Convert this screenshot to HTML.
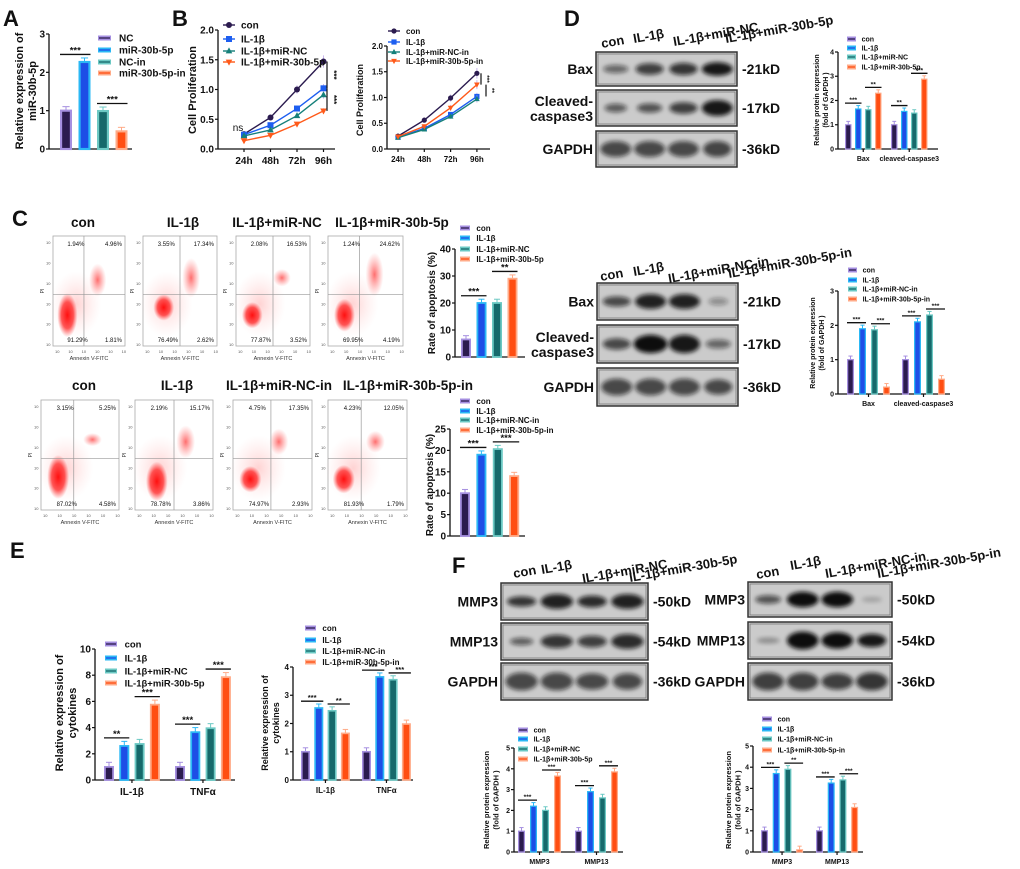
<!DOCTYPE html>
<html><head><meta charset="utf-8"><style>
html,body{margin:0;padding:0;background:#fff;width:1020px;height:869px;overflow:hidden}
svg{display:block;font-family:"Liberation Sans",Arial,sans-serif;font-weight:bold}
</style></head><body>
<svg id="fig" width="1020" height="869" viewBox="0 0 1020 869" xmlns="http://www.w3.org/2000/svg">
<defs>
<filter id="blur2" x="-50%" y="-50%" width="200%" height="200%"><feGaussianBlur stdDeviation="2"/></filter>
<filter id="blur1" x="-50%" y="-50%" width="200%" height="200%"><feGaussianBlur stdDeviation="1.2"/></filter>
<radialGradient id="dotDense"><stop offset="0" stop-color="#ff1010" stop-opacity="1"/><stop offset="0.6" stop-color="#ff2020" stop-opacity="0.75"/><stop offset="1" stop-color="#ff4040" stop-opacity="0"/></radialGradient>
<radialGradient id="dotLight"><stop offset="0" stop-color="#ff3030" stop-opacity="0.7"/><stop offset="1" stop-color="#ff6060" stop-opacity="0"/></radialGradient>
<radialGradient id="dotHaze"><stop offset="0" stop-color="#ff8080" stop-opacity="0.35"/><stop offset="1" stop-color="#ffb0b0" stop-opacity="0"/></radialGradient>
</defs>
</svg>
<script>
// ---------------- DATA ----------------
const A_groups = ['NC','miR-30b-5p','NC-in','miR-30b-5p-in'];
const A_values = [1.0, 2.27, 0.99, 0.46];
const A_ticks = [0,1,2,3];

const B_times = ['24h','48h','72h','96h'];
const B1_labels = ['con','IL-1β','IL-1β+miR-NC','IL-1β+miR-30b-5p'];
const B1_con = [0.25,0.53,1.0,1.47];
const B1_il = [0.24,0.40,0.68,1.02];
const B1_nc = [0.22,0.32,0.56,0.91];
const B1_mir = [0.14,0.23,0.42,0.64];
const B2_labels = ['con','IL-1β','IL-1β+miR-NC-in','IL-1β+miR-30b-5p-in'];
const B2_con = [0.25,0.56,0.99,1.47];
const B2_il = [0.23,0.40,0.67,1.02];
const B2_nc = [0.22,0.38,0.63,0.97];
const B2_mir = [0.24,0.44,0.80,1.25];
const B_ticks = [0.0,0.5,1.0,1.5,2.0];

const LEG_OE = ['con','IL-1β','IL-1β+miR-NC','IL-1β+miR-30b-5p'];
const LEG_IN = ['con','IL-1β','IL-1β+miR-NC-in','IL-1β+miR-30b-5p-in'];

const C1_values = [6.5,20,20,29];
const C1_ticks = [0,10,20,30,40];
const C2_values = [10,19,20.3,14];
const C2_ticks = [0,5,10,15,20,25];

const D_cats = ['Bax','cleaved-caspase3'];
const D1_bax = [1,1.65,1.62,2.3];
const D1_cc = [1,1.55,1.48,2.88];
const D1_ticks = [0,1,2,3,4];
const D2_bax = [1,1.9,1.87,0.2];
const D2_cc = [1,2.1,2.3,0.43];
const D2_ticks = [0,1,2,3];

const E_cats = ['IL-1β','TNFα'];
const E1_il = [1,2.6,2.75,5.75];
const E1_tnf = [1,3.65,3.95,7.85];
const E1_ticks = [0,2,4,6,8,10];
const E2_il = [1,2.55,2.45,1.65];
const E2_tnf = [1,3.65,3.55,1.98];
const E2_ticks = [0,1,2,3,4];

const F_cats = ['MMP3','MMP13'];
const F1_mmp3 = [1,2.2,2.0,3.65];
const F1_mmp13 = [1,2.9,2.6,3.85];
const F2_mmp3 = [1,3.7,3.9,0.1];
const F2_mmp13 = [1,3.25,3.4,2.1];
const F_ticks = [0,1,2,3,4,5];

// ---------------- HELPERS ----------------
const svg = document.getElementById('fig');
const NS = 'http://www.w3.org/2000/svg';
const COL = [{f:'#2b1b4f',s:'#a58fe0'},{f:'#1d4ee6',s:'#2bb8f5'},{f:'#16696b',s:'#6cc9c4'},{f:'#ff4e12',s:'#ffab88'}];
const LCOL = ['#2b1b4f','#1d5ef0','#16807a','#ff5a1a'];

function mk(tag, attrs, parent, name, inter){
  const e = document.createElementNS(NS, tag);
  for (const k in attrs) e.setAttribute(k, attrs[k]);
  
  
  (parent || svg).appendChild(e);
  return e;
}
function txt(x,y,s,size,parent,name,opts){
  opts = opts || {};
  const t = mk('text', {x:x, y:y, 'font-size':size, fill:opts.fill||'#111', 'text-anchor':opts.anchor||'start'}, parent, name, false);
  if (opts.rot) t.setAttribute('transform','rotate('+opts.rot+' '+x+' '+y+')');
  if (opts.weight) t.setAttribute('font-weight', opts.weight);
  t.textContent = s;
  return t;
}
function yAxis(g, ax, y0, yT, ymax, ticks, fs, xEnd){
  const sy = v => y0 - (v/ymax)*(y0-yT);
  mk('line',{x1:ax,y1:y0,x2:ax,y2:yT,stroke:'#111','stroke-width':1.3},g,'y-axis-line');
  mk('line',{x1:ax,y1:y0,x2:xEnd,y2:y0,stroke:'#111','stroke-width':1.3},g,'x-axis-line');
  ticks.forEach(t=>{
    const y = sy(t);
    mk('line',{x1:ax-3,y1:y,x2:ax,y2:y,stroke:'#111','stroke-width':1.2},g,'y-tick');
    txt(ax-4,y+fs*0.35,String(t),fs,g,'y-tick-label',{anchor:'end'});
  });
  return sy;
}
function legendBars(g, x, ys, labels, fs, sw){
  labels.forEach((l,i)=>{
    mk('rect',{x:x,y:ys[i]-2.5,width:sw,height:5,fill:COL[i].s},g,'legend-swatch');
    mk('line',{x1:x+1,y1:ys[i],x2:x+sw-1,y2:ys[i],stroke:COL[i].f,'stroke-width':1.3},g,'legend-swatch-line');
    txt(x+sw+(fs*0.8),ys[i]+fs*0.35,l,fs,g,'legend-entry');
  });
}
function yTitle(g, x, yc, lines, fs){
  lines.forEach((l,i)=>{
    txt(x + i*(fs+2), yc, l, fs, g, 'y-axis-title', {anchor:'middle', rot:-90});
  });
}
// bar chart; series = array of value arrays (one per group)
function barChart(cfg){
  const g = mk('g',{},svg,cfg.name);
  const sy = yAxis(g,cfg.ax,cfg.y0,cfg.yT,cfg.ymax,cfg.ticks,cfg.fs,cfg.xEnd);
  const tops = [];
  cfg.series.forEach((vals,gi)=>{
    tops.push([]);
    vals.forEach((v,bi)=>{
      const x = cfg.groups[gi] + bi*cfg.step;
      const y = sy(v);
      const sw = Math.max(1, cfg.bw*0.18);
      const b = mk('rect',{x:x+sw/2,y:y,width:cfg.bw-sw,height:cfg.y0-y,fill:COL[bi].f,stroke:COL[bi].s,'stroke-width':sw},g,'bar-'+(cfg.cats?cfg.cats[gi]+'-':'')+bi);
      const e = cfg.ymax*0.035;
      const ye = sy(v+e);
      mk('line',{x1:x+cfg.bw/2,y1:y,x2:x+cfg.bw/2,y2:ye,stroke:COL[bi].s,'stroke-width':1},g,'error-bar');
      mk('line',{x1:x+cfg.bw/2-cfg.bw*0.3,y1:ye,x2:x+cfg.bw/2+cfg.bw*0.3,y2:ye,stroke:COL[bi].s,'stroke-width':1},g,'error-cap');
      tops[gi].push({x:x, top:v+e});
    });
    if (cfg.cats){
      const cx = cfg.groups[gi] + (vals.length-1)*cfg.step/2 + cfg.bw/2;
      mk('line',{x1:cx,y1:cfg.y0,x2:cx,y2:cfg.y0+3,stroke:'#111','stroke-width':1.2},g,'x-tick');
      txt(cx,cfg.y0+cfg.fs+5,cfg.cats[gi],cfg.fs,g,'x-tick-label',{anchor:'middle'});
    }
  });
  (cfg.sig||[]).forEach(s=>{
    const a = tops[s[0]][s[1]], b = tops[s[0]][s[2]];
    const y = sy(Math.max(a.top,b.top)) - cfg.fs*0.35;
    mk('line',{x1:a.x,y1:y,x2:b.x+cfg.bw,y2:y,stroke:'#111','stroke-width':1.3},g,'significance-line');
    txt((a.x+b.x+cfg.bw)/2,y-1,s[3],cfg.fs*0.95,g,'significance-label',{anchor:'middle'});
  });
  legendBars(g,cfg.legX,cfg.legY,cfg.legend,cfg.lfs,cfg.sw);
  yTitle(g,cfg.titleX,cfg.titleY,cfg.title,cfg.tfs);
  return g;
}
function marker(g,kind,x,y,c,r){
  if (kind===0) mk('circle',{cx:x,cy:y,r:r,fill:c},g,'marker-circle');
  else if (kind===1) mk('rect',{x:x-r,y:y-r,width:2*r,height:2*r,fill:c},g,'marker-square');
  else if (kind===2) mk('polygon',{points:`${x},${y-r*1.2} ${x-r*1.1},${y+r*0.8} ${x+r*1.1},${y+r*0.8}`,fill:c},g,'marker-triangle-up');
  else mk('polygon',{points:`${x},${y+r*1.2} ${x-r*1.1},${y-r*0.8} ${x+r*1.1},${y-r*0.8}`,fill:c},g,'marker-triangle-down');
}
function lineChart(cfg){
  const g = mk('g',{},svg,cfg.name);
  const sy = yAxis(g,cfg.ax,cfg.y0,cfg.yT,2.0,B_ticks.map(t=>t),cfg.fs,cfg.xEnd);
  g.querySelectorAll('text').forEach((t,i)=>{t.textContent = B_ticks[i].toFixed(1);});
  const sx = i => cfg.x0 + i*cfg.dx;
  B_times.forEach((t,i)=>{
    mk('line',{x1:sx(i),y1:cfg.y0,x2:sx(i),y2:cfg.y0+3,stroke:'#111','stroke-width':1.2},g,'x-tick');
    txt(sx(i),cfg.y0+cfg.fs+5,t,cfg.fs,g,'x-tick-label',{anchor:'middle'});
  });
  cfg.series.forEach((vals,si)=>{
    const pts = vals.map((v,i)=>sx(i)+','+sy(v)).join(' ');
    mk('polyline',{points:pts,fill:'none',stroke:LCOL[si],'stroke-width':1.4},g,'line-'+cfg.labels[si]);
    vals.forEach((v,i)=>{
      const e = v*0.07;
      mk('line',{x1:sx(i),y1:sy(v-e),x2:sx(i),y2:sy(v+e),stroke:'#c9b6ee','stroke-width':1},g,'error-bar');
      marker(g,si,sx(i),sy(v),LCOL[si],cfg.mr);
    });
  });
  cfg.labels.forEach((l,i)=>{
    mk('line',{x1:cfg.legX-6,y1:cfg.legY[i],x2:cfg.legX+6,y2:cfg.legY[i],stroke:LCOL[i],'stroke-width':1.4},g,'legend-line');
    marker(g,i,cfg.legX,cfg.legY[i],LCOL[i],cfg.mr);
    txt(cfg.legX+12,cfg.legY[i]+cfg.lfs*0.35,l,cfg.lfs,g,'legend-entry');
  });
  yTitle(g,cfg.titleX,cfg.titleY,['Cell Proliferation'],cfg.tfs);
  (cfg.sig||[]).forEach(s=>{
    const ya = sy(cfg.series[s[0]][3]), yb = sy(cfg.series[s[1]][3]);
    mk('line',{x1:s[2],y1:ya,x2:s[2],y2:yb,stroke:'#111','stroke-width':1.2},g,'significance-line');
    txt(s[2]+4,(ya+yb)/2,s[3],cfg.fs*0.8,g,'significance-label',{anchor:'middle',rot:90});
  });
  return g;
}
// ---------------- PANEL LETTERS ----------------
[['A',3,26],['B',172,26],['D',564,26],['C',12,226],['E',10,558],['F',452,573]].forEach(p=>{
  txt(p[1],p[2],p[0],22,svg,'panel-label-'+p[0].toLowerCase(),{weight:'900'});
});

// ---------------- A ----------------
barChart({name:'chart-a',ax:49,y0:149,yT:34,ymax:3,ticks:A_ticks,fs:10,xEnd:132,
  series:[A_values],groups:[60],step:18.5,bw:12,
  sig:[[0,0,1,'***'],[0,2,3,'***']],
  legX:98,legY:[38,50,62,73],legend:A_groups,lfs:10,sw:13,
  titleX:23,titleY:91,title:['Relative expression of','miR-30b-5p'],tfs:11});

// ---------------- B ----------------
lineChart({name:'chart-b-overexpression',ax:218,y0:149,yT:30,xEnd:335,fs:10,x0:244,dx:26.5,
  series:[B1_con,B1_il,B1_nc,B1_mir],labels:B1_labels,mr:3,
  legX:229,legY:[25,39,51,62],lfs:10,titleX:196,titleY:90,tfs:11,
  sig:[[0,1,327,'***'],[1,3,327,'***']]});
txt(238,131,'ns',10,svg,'ns-label',{anchor:'middle',weight:'normal'});
lineChart({name:'chart-b-inhibition',ax:387,y0:149,yT:46,xEnd:490,fs:8,x0:398,dx:26.3,
  series:[B2_con,B2_il,B2_nc,B2_mir],labels:B2_labels,mr:2.6,
  legX:394,legY:[31,42,52,61],lfs:8,titleX:363,titleY:100,tfs:9,
  sig:[[0,3,481,'***'],[3,1,486,'**']]});

// ---------------- BLOTS ----------------
function blot(name,x,y,w,h,bands){
  const g = mk('g',{},svg,name);
  mk('rect',{x:x,y:y,width:w,height:h,fill:'#cbcbcb',stroke:'#333','stroke-width':1.5},g,'blot-background');
  mk('rect',{x:x+2,y:y+2,width:w-4,height:h-4,fill:'none',stroke:'#777','stroke-width':0.8},g,'blot-inner-border');
  bands.forEach((b,i)=>{
    mk('ellipse',{cx:x+w*(0.14+i*0.24),cy:y+h*0.5,rx:w*b[0],ry:h*b[1],fill:'#111','fill-opacity':b[2],filter:'url(#blur2)'},g,'band-lane-'+(i+1));
  });
  return g;
}
function blotSet(prefix,x,w,rows,labels,kd,hdr,hdrY,hdrX){
  rows.forEach((r,i)=>{
    blot(prefix+'-'+labels[i].join('-').toLowerCase()+'-blot',x,r[0],w,r[1],r[2]);
    const yc = r[0]+r[1]/2;
    labels[i].forEach((l,j)=>{
      txt(x-3,yc+5-(labels[i].length-1)*7+j*15,l,14,svg,'blot-row-label',{anchor:'end'});
    });
    txt(x+w+5,yc+5,kd[i],14,svg,'molecular-weight-label');
  });
  hdr.forEach((h,i)=>{
    txt(hdrX[i],hdrY[i],h,13,svg,'lane-header',{rot:-10});
  });
}
// D top
blotSet('d-top',596,141,[
  [52,34,[[0.09,0.12,0.55],[0.1,0.17,0.75],[0.1,0.18,0.8],[0.11,0.2,0.95]]],
  [90,36,[[0.08,0.12,0.6],[0.09,0.13,0.65],[0.1,0.16,0.75],[0.11,0.22,0.95]]],
  [131,36,[[0.11,0.22,0.7],[0.11,0.22,0.7],[0.11,0.22,0.7],[0.1,0.22,0.72]]]],
  [['Bax'],['Cleaved-','caspase3'],['GAPDH']],['-21kD','-17kD','-36kD'],
  ['con','IL-1β','IL-1β+miR-NC','IL-1β+miR-30b-5p'],[48,43,46,43],[602,634,674,726]);
// D bottom
blotSet('d-bottom',597,141,[
  [283,37,[[0.1,0.14,0.7],[0.11,0.2,0.9],[0.11,0.2,0.9],[0.07,0.1,0.35]]],
  [325,38,[[0.1,0.15,0.7],[0.12,0.24,1],[0.11,0.24,0.95],[0.09,0.12,0.55]]],
  [368,38,[[0.11,0.22,0.7],[0.11,0.22,0.7],[0.11,0.22,0.7],[0.1,0.2,0.7]]]],
  [['Bax'],['Cleaved-','caspase3'],['GAPDH']],['-21kD','-17kD','-36kD'],
  ['con','IL-1β','IL-1β+miR-NC-in','IL-1β+miR-30b-5p-in'],[281,276,283,278],[601,634,669,729]);
// F left
blotSet('f-left',501,147,[
  [583,37,[[0.1,0.14,0.8],[0.11,0.2,0.9],[0.1,0.16,0.85],[0.11,0.2,0.9]]],
  [623,37,[[0.08,0.1,0.6],[0.11,0.18,0.8],[0.1,0.16,0.75],[0.11,0.2,0.85]]],
  [663,37,[[0.11,0.24,0.7],[0.11,0.24,0.7],[0.11,0.22,0.7],[0.1,0.22,0.7]]]],
  [['MMP3'],['MMP13'],['GAPDH']],['-50kD','-54kD','-36kD'],
  ['con','IL-1β','IL-1β+miR-NC','IL-1β+miR-30b-5p'],[578,574,583,582],[514,542,583,630]);
// F right
blotSet('f-right',748,144,[
  [582,35,[[0.09,0.12,0.65],[0.11,0.22,1],[0.11,0.22,1],[0.07,0.08,0.2]]],
  [622,37,[[0.08,0.08,0.3],[0.11,0.24,1],[0.11,0.22,1],[0.1,0.18,0.95]]],
  [663,37,[[0.11,0.24,0.75],[0.11,0.24,0.75],[0.11,0.22,0.75],[0.11,0.24,0.8]]]],
  [['MMP3'],['MMP13'],['GAPDH']],['-50kD','-54kD','-36kD'],
  ['con','IL-1β','IL-1β+miR-NC-in','IL-1β+miR-30b-5p-in'],[579,570,578,578],[757,791,826,878]);

// ---------------- D CHARTS ----------------
barChart({name:'chart-d-overexpression',ax:838,y0:149,yT:52,ymax:4,ticks:D1_ticks,fs:7,xEnd:938,
  series:[D1_bax,D1_cc],cats:D_cats,groups:[845,891],step:10,bw:6.5,
  sig:[[0,0,1,'***'],[0,2,3,'**'],[1,0,1,'**'],[1,2,3,'***']],
  legX:847,legY:[39,48,57,67],legend:LEG_OE,lfs:7,sw:9,
  titleX:819,titleY:100,title:['Relative protein expression','(fold of GAPDH  )'],tfs:7});
barChart({name:'chart-d-inhibition',ax:838,y0:394,yT:291,ymax:3,ticks:D2_ticks,fs:7,xEnd:950,
  series:[D2_bax,D2_cc],cats:D_cats,groups:[847,902],step:12,bw:7,
  sig:[[0,0,1,'***'],[0,2,3,'***'],[1,0,1,'***'],[1,2,3,'***']],
  legX:848,legY:[270,280,289,299],legend:LEG_IN,lfs:7,sw:9,
  titleX:815,titleY:343,title:['Relative protein expression','(fold of GAPDH  )'],tfs:7});

// ---------------- C FLOW PLOTS ----------------
function flowPlot(name,x,y,w,h,pcts,dense,upper,qx){
  const g = mk('g',{},svg,name);
  mk('rect',{x:x,y:y,width:w,height:h,fill:'#fff',stroke:'#aaa','stroke-width':0.8},g,'flow-plot-frame');
  mk('ellipse',{cx:x+w*0.32,cy:y+h*0.62,rx:w*0.35,ry:h*0.3,fill:'url(#dotHaze)'},g,'scatter-haze');
  mk('ellipse',{cx:x+w*upper[0],cy:y+h*upper[1],rx:w*0.12,ry:h*upper[2],fill:'url(#dotLight)'},g,'scatter-upper-right');
  mk('ellipse',{cx:x+w*dense[0],cy:y+h*dense[1],rx:w*0.14,ry:h*dense[2],fill:'url(#dotDense)'},g,'scatter-live-cells');
  const qxp = x+w*qx, qyp = y+h*0.53;
  mk('line',{x1:qxp,y1:y,x2:qxp,y2:y+h,stroke:'#999','stroke-width':0.7},g,'quadrant-vertical');
  mk('line',{x1:x,y1:qyp,x2:x+w,y2:qyp,stroke:'#999','stroke-width':0.7},g,'quadrant-horizontal');
  const f=6;
  txt(x+w*0.2,y+10,pcts[0],f,g,'quadrant-q1-percent',{weight:'normal'});
  txt(x+w-3,y+10,pcts[1],f,g,'quadrant-q2-percent',{weight:'normal',anchor:'end'});
  txt(x+w*0.2,y+h-4,pcts[2],f,g,'quadrant-q3-percent',{weight:'normal'});
  txt(x+w-3,y+h-4,pcts[3],f,g,'quadrant-q4-percent',{weight:'normal',anchor:'end'});
  for(let i=0;i<6;i++){
    txt(x+2+i*w/5.4,y+h+7,'10',4,g,'x-decade-label',{weight:'normal',fill:'#555'});
    txt(x-7,y+h-i*h/5.4,'10',4,g,'y-decade-label',{weight:'normal',fill:'#555'});
  }
  txt(x+w/2,y+h+14,'Annexin V-FITC',5.5,g,'x-axis-title',{weight:'normal',anchor:'middle',fill:'#333'});
  txt(x-9,y+h/2,'PI',5,g,'y-axis-title',{weight:'normal',anchor:'middle',rot:-90,fill:'#333'});
}
const C_top = [
  [53,236,72,110,['1.94%','4.96%','91.29%','1.81%'],[0.2,0.72,0.2],[0.62,0.4,0.15],0.43,'con',83],
  [143,236,74,110,['3.55%','17.34%','76.49%','2.62%'],[0.28,0.65,0.12],[0.65,0.38,0.18],0.5,'IL-1β',183],
  [236,236,74,110,['2.08%','16.53%','77.87%','3.52%'],[0.22,0.72,0.12],[0.62,0.38,0.08],0.5,'IL-1β+miR-NC',277],
  [328,236,75,110,['1.24%','24.62%','69.95%','4.19%'],[0.22,0.72,0.15],[0.62,0.35,0.2],0.42,'IL-1β+miR-30b-5p',392]];
const C_bot = [
  [41,400,78,110,['3.15%','5.25%','87.02%','4.58%'],[0.22,0.7,0.2],[0.66,0.36,0.06],0.42,'con',84],
  [135,400,78,110,['2.19%','15.17%','78.78%','3.86%'],[0.28,0.74,0.18],[0.65,0.38,0.15],0.5,'IL-1β',177],
  [233,400,79,110,['4.75%','17.35%','74.97%','2.93%'],[0.22,0.72,0.12],[0.58,0.38,0.12],0.48,'IL-1β+miR-NC-in',279],
  [328,400,79,110,['4.23%','12.05%','81.93%','1.79%'],[0.2,0.72,0.13],[0.6,0.38,0.1],0.42,'IL-1β+miR-30b-5p-in',408]];
C_top.forEach((p,i)=>{ flowPlot('flow-plot-top-'+(i+1),p[0],p[1],p[2],p[3],p[4],p[5],p[6],p[7]); txt(p[9],p[1]-9,p[8],13.5,svg,'flow-plot-title',{anchor:'middle'}); });
C_bot.forEach((p,i)=>{ flowPlot('flow-plot-bottom-'+(i+1),p[0],p[1],p[2],p[3],p[4],p[5],p[6],p[7]); txt(p[9],p[1]-10,p[8],13.5,svg,'flow-plot-title',{anchor:'middle'}); });

barChart({name:'chart-c-overexpression',ax:455,y0:357,yT:249,ymax:40,ticks:C1_ticks,fs:10,xEnd:525,
  series:[C1_values],groups:[461],step:15.5,bw:10,
  sig:[[0,0,1,'***'],[0,2,3,'**']],
  legX:460,legY:[228,238,249,259],legend:LEG_OE,lfs:8,sw:10,
  titleX:435,titleY:303,title:['Rate of apoptosis (%)'],tfs:10});
barChart({name:'chart-c-inhibition',ax:450,y0:536,yT:429,ymax:25,ticks:C2_ticks,fs:10,xEnd:525,
  series:[C2_values],groups:[460],step:16.4,bw:10,
  sig:[[0,0,1,'***'],[0,2,3,'***']],
  legX:460,legY:[401,411,420,430],legend:LEG_IN,lfs:8,sw:10,
  titleX:433,titleY:485,title:['Rate of apoptosis (%)'],tfs:10});

// ---------------- E ----------------
barChart({name:'chart-e-overexpression',ax:95,y0:780,yT:649,ymax:10,ticks:E1_ticks,fs:10,xEnd:235,
  series:[E1_il,E1_tnf],cats:E_cats,groups:[104,175],step:15.3,bw:10,
  sig:[[0,0,1,'**'],[0,2,3,'***'],[1,0,1,'***'],[1,2,3,'***']],
  legX:105,legY:[644,658,671,683],legend:LEG_OE,lfs:9.5,sw:12,
  titleX:63,titleY:713,title:['Relative expression of','cytokines'],tfs:11});
barChart({name:'chart-e-inhibition',ax:293,y0:780,yT:667,ymax:4,ticks:E2_ticks,fs:8,xEnd:413,
  series:[E2_il,E2_tnf],cats:E_cats,groups:[301,362],step:13.3,bw:9,
  sig:[[0,0,1,'***'],[0,2,3,'**'],[1,0,1,'***'],[1,2,3,'***']],
  legX:305,legY:[628,640,651,662],legend:LEG_IN,lfs:8,sw:11,
  titleX:268,titleY:723,title:['Relative expression of','cytokines'],tfs:9});

// ---------------- F CHARTS ----------------
barChart({name:'chart-f-overexpression',ax:514,y0:852,yT:748,ymax:5,ticks:F_ticks,fs:7,xEnd:623,
  series:[F1_mmp3,F1_mmp13],cats:F_cats,groups:[518,575],step:12,bw:7,
  sig:[[0,0,1,'***'],[0,2,3,'***'],[1,0,1,'***'],[1,2,3,'***']],
  legX:518,legY:[730,739,749,759],legend:LEG_OE,lfs:7,sw:10,
  titleX:489,titleY:800,title:['Relative protein expression','(fold of GAPDH  )'],tfs:7.5});
barChart({name:'chart-f-inhibition',ax:753,y0:852,yT:746,ymax:5,ticks:F_ticks,fs:7,xEnd:863,
  series:[F2_mmp3,F2_mmp13],cats:F_cats,groups:[761,816],step:11.7,bw:7,
  sig:[[0,0,1,'***'],[0,2,3,'**'],[1,0,1,'***'],[1,2,3,'***']],
  legX:762,legY:[719,729,739,750],legend:LEG_IN,lfs:7,sw:10,
  titleX:731,titleY:800,title:['Relative protein expression','(fold of GAPDH  )'],tfs:7.5});
</script>
</body></html>
